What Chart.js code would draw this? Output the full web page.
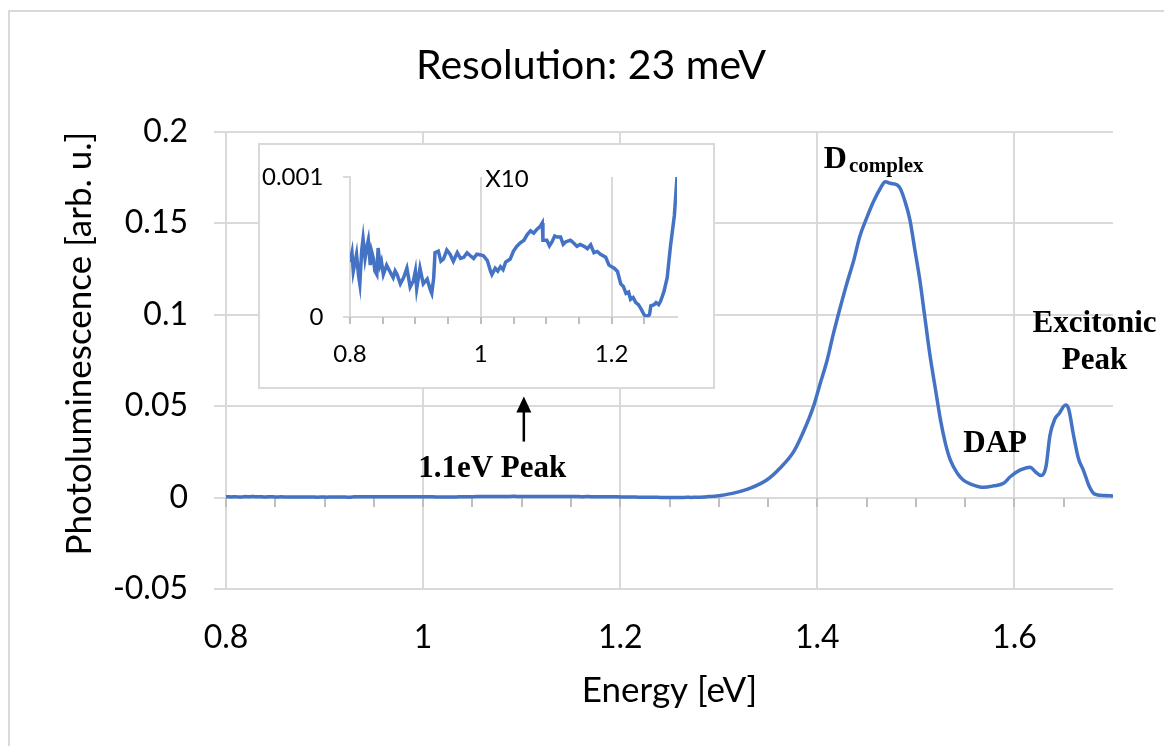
<!DOCTYPE html>
<html>
<head>
<meta charset="utf-8">
<title>Photoluminescence spectrum</title>
<script src="https://cdn.jsdelivr.net/npm/chart.js@4.4.1/dist/chart.umd.min.js"></script>
<style>
  html, body { margin: 0; padding: 0; background: #fff; }
  #wrap { position: relative; width: 1164px; height: 746px; overflow: hidden; }
  #main { position: absolute; left: 0; top: 0; width: 1164px; height: 746px; }
  #inset { position: absolute; left: 258px; top: 143px; width: 457px; height: 246px; }
</style>
</head>
<body>
<div id="wrap">
  <canvas id="main" width="1164" height="746"></canvas>
  <canvas id="inset" width="457" height="246"></canvas>
</div>
<script>
"use strict";

// Energy [eV]
const energy = [
  0.800, 0.803, 0.805, 0.810, 0.813, 0.815, 0.818, 0.820, 0.823, 0.826,
  0.828, 0.831, 0.833, 0.836, 0.838, 0.841, 0.843, 0.846, 0.848, 0.851,
  0.856, 0.861, 0.866, 0.869, 0.872, 0.877, 0.882, 0.887, 0.892, 0.897,
  0.900, 0.902, 0.907, 0.912, 0.918, 0.923, 0.925, 0.928, 0.930, 0.935,
  0.939, 0.943, 0.948, 0.953, 0.958, 0.964, 0.969, 0.974, 0.979, 0.984,
  0.989, 0.994, 1.000, 1.004, 1.010, 1.015, 1.017, 1.022, 1.026, 1.030,
  1.034, 1.038, 1.045, 1.050, 1.055, 1.060, 1.066, 1.071, 1.076, 1.081,
  1.086, 1.091, 1.094, 1.095, 1.101, 1.105, 1.109, 1.113, 1.117, 1.122,
  1.126, 1.130, 1.137, 1.142, 1.147, 1.152, 1.158, 1.163, 1.168, 1.173,
  1.178, 1.183, 1.191, 1.196, 1.204, 1.209, 1.214, 1.218, 1.222, 1.226,
  1.229, 1.233, 1.237, 1.241, 1.245, 1.250, 1.255, 1.258, 1.260, 1.265,
  1.268, 1.272, 1.275, 1.280, 1.285, 1.290, 1.296, 1.300,
  1.315, 1.332, 1.349, 1.362, 1.376, 1.386, 1.396, 1.403, 1.410, 1.416,
  1.423, 1.430, 1.437, 1.443, 1.450, 1.457, 1.464, 1.469, 1.474, 1.481,
  1.484, 1.489, 1.494, 1.499, 1.504, 1.509, 1.514, 1.520, 1.525, 1.530,
  1.535, 1.542, 1.548, 1.555, 1.569, 1.579, 1.589, 1.596, 1.606, 1.616,
  1.621, 1.627, 1.632, 1.636, 1.641, 1.645, 1.652, 1.655, 1.660, 1.665,
  1.670, 1.676, 1.681, 1.691, 1.700,
];

// Photoluminescence [arb. u.]
const photolum = [
  0.000394, 0.000461, 0.000327, 0.000450, 0.000300, 0.000238, 0.000483, 0.000561, 0.000420, 0.000506,
  0.000550, 0.000372, 0.000470, 0.000416, 0.000330, 0.000305, 0.000494, 0.000372, 0.000400, 0.000305,
  0.000372, 0.000327, 0.000283, 0.000330, 0.000305, 0.000238, 0.000283, 0.000350, 0.000216, 0.000261,
  0.000330, 0.000205, 0.000350, 0.000238, 0.000272, 0.000194, 0.000171, 0.000283, 0.000461, 0.000472,
  0.000400, 0.000416, 0.000480, 0.000450, 0.000400, 0.000461, 0.000420, 0.000428, 0.000460, 0.000439,
  0.000420, 0.000450, 0.000445, 0.000439, 0.000405, 0.000327, 0.000305, 0.000350, 0.000330, 0.000361,
  0.000340, 0.000394, 0.000416, 0.000472, 0.000506, 0.000530, 0.000550, 0.000590, 0.000617, 0.000600,
  0.000628, 0.000650, 0.000673, 0.000550, 0.000550, 0.000510, 0.000539, 0.000580, 0.000572, 0.000572,
  0.000520, 0.000539, 0.000550, 0.000530, 0.000506, 0.000520, 0.000506, 0.000490, 0.000517, 0.000461,
  0.000470, 0.000450, 0.000428, 0.000372, 0.000350, 0.000327, 0.000238, 0.000220, 0.000171, 0.000180,
  0.000127, 0.000140, 0.000105, 0.000090, 0.000060, 0.000016, 0.000004, 0.000020, 0.000082, 0.000090,
  0.000105, 0.000090, 0.000116, 0.000183, 0.000283, 0.000506, 0.000728, 0.001000,
  0.0024, 0.0051, 0.0097, 0.0160, 0.0251, 0.0361, 0.0497, 0.0625, 0.0752, 0.0889,
  0.1035, 0.1172, 0.1298, 0.1426, 0.1527, 0.1618, 0.1691, 0.1727, 0.1718, 0.1709,
  0.1691, 0.1618, 0.1517, 0.1353, 0.1189, 0.0989, 0.0789, 0.0587, 0.0423, 0.0295,
  0.0204, 0.0133, 0.0096, 0.0075, 0.0056, 0.0064, 0.0078, 0.0115, 0.0151, 0.0166,
  0.0142, 0.0120, 0.0169, 0.0339, 0.0429, 0.0457, 0.0506, 0.0484, 0.0339, 0.0212,
  0.0149, 0.0060, 0.0020, 0.0011, 0.0009,
];

const mainXTicks = [0.8, 1, 1.2, 1.4, 1.6];
const mainYTicks = [-0.05, 0, 0.05, 0.1, 0.15, 0.2];
const insetXTicks = [0.8, 1, 1.2];
const insetYTicks = [0, 0.001];

const LINE_COLOR = "#4472C4";
const GRID_COLOR = "#d9d9d9";
const TICK_COLOR = "#bfbfbf";
const SANS = "Lato, 'Noto Sans', sans-serif";
const SERIF = "'Liberation Serif', 'DejaVu Serif', serif";

// peak labels, anchored in data units
const peakLabels = [
  { text: "DAP", x: 1.5804, y: 0.0251 },
  { text: "Excitonic", x: 1.6813, y: 0.0907 },
  { text: "Peak", x: 1.6813, y: 0.0703 },
  { text: "1.1eV Peak", x: 1.0701, y: 0.0115 },
];
const complexLabel = { main: "D", sub: "complex", x: 1.4572, y: 0.1802 };
const arrowMark = { x: 1.1022, from: 0.0306, to: 0.0552 };

const points = energy.map((e, i) => ({ x: e, y: photolum[i] }));

function fixTicks(values) {
  return (scale) => {
    scale.ticks = values.map((v) => ({ value: v }));
  };
}

function fmt(v) {
  return String(Math.round(v * 10000) / 10000);
}

// frame around each chart
const framePlugin = {
  id: "frame",
  beforeDraw(chart, args, opts) {
    const { ctx } = chart;
    ctx.save();
    ctx.fillStyle = "#fff";
    ctx.fillRect(0, 0, chart.width, chart.height);
    ctx.strokeStyle = GRID_COLOR;
    ctx.lineWidth = 2;
    ctx.strokeRect(opts.x, opts.y, opts.w, opts.h);
    ctx.restore();
  },
};

// small tick marks hanging under the zero line
const zeroTicksPlugin = {
  id: "zeroTicks",
  beforeDatasetsDraw(chart, args, opts) {
    const { ctx, scales } = chart;
    const x = scales.x;
    const y0 = Math.round(scales.y.getPixelForValue(0));
    ctx.save();
    ctx.strokeStyle = TICK_COLOR;
    ctx.lineWidth = 2;
    for (let v = x.min; v < x.max - 1e-9; v += opts.step) {
      const px = Math.round(x.getPixelForValue(v));
      ctx.beginPath();
      ctx.moveTo(px, y0);
      ctx.lineTo(px, y0 + opts.length);
      ctx.stroke();
    }
    ctx.restore();
  },
};

const peakLabelPlugin = {
  id: "peakLabels",
  afterDatasetsDraw(chart) {
    const { ctx, scales } = chart;
    const sx = scales.x;
    const sy = scales.y;
    ctx.save();
    ctx.fillStyle = "#000";
    ctx.textBaseline = "alphabetic";
    ctx.textAlign = "center";
    ctx.font = `bold 31px ${SERIF}`;
    peakLabels.forEach((l) => {
      ctx.fillText(l.text, sx.getPixelForValue(l.x), sy.getPixelForValue(l.y));
    });

    // D with subscript
    const bigFont = `bold 32px ${SERIF}`;
    const subFont = `bold 21px ${SERIF}`;
    ctx.font = bigFont;
    const wMain = ctx.measureText(complexLabel.main).width;
    ctx.font = subFont;
    const wSub = ctx.measureText(complexLabel.sub).width;
    const cx = sx.getPixelForValue(complexLabel.x);
    const by = sy.getPixelForValue(complexLabel.y);
    const left = cx - (wMain + wSub + 2) / 2;
    ctx.textAlign = "left";
    ctx.font = bigFont;
    ctx.fillText(complexLabel.main, left, by);
    ctx.font = subFont;
    ctx.fillText(complexLabel.sub, left + wMain + 2, by + 4);

    // arrow pointing up at the 1.1 eV feature
    const ax = sx.getPixelForValue(arrowMark.x);
    const yBase = sy.getPixelForValue(arrowMark.from);
    const yTip = sy.getPixelForValue(arrowMark.to);
    ctx.strokeStyle = "#000";
    ctx.lineWidth = 2.5;
    ctx.beginPath();
    ctx.moveTo(ax, yBase);
    ctx.lineTo(ax, yTip + 12);
    ctx.stroke();
    ctx.beginPath();
    ctx.moveTo(ax, yTip);
    ctx.lineTo(ax - 7.5, yTip + 16);
    ctx.lineTo(ax + 7.5, yTip + 16);
    ctx.closePath();
    ctx.fill();
    ctx.restore();
  },
};

const insetTitlePlugin = {
  id: "insetTitle",
  afterDraw(chart, args, opts) {
    const { ctx, scales } = chart;
    ctx.save();
    ctx.fillStyle = "#000";
    ctx.font = `24px ${SANS}`;
    ctx.textAlign = "center";
    ctx.textBaseline = "middle";
    ctx.fillText(opts.text, scales.x.getPixelForValue(opts.x), scales.y.getPixelForValue(opts.y) + 2);
    ctx.restore();
  },
};

const mainChart = new Chart(document.getElementById("main"), {
  type: "line",
  data: {
    datasets: [
      {
        data: points,
        borderColor: LINE_COLOR,
        borderWidth: 3.5,
        pointRadius: 0,
        cubicInterpolationMode: "monotone",
        fill: false,
      },
    ],
  },
  options: {
    responsive: false,
    animation: false,
    events: [],
    layout: { padding: { left: 18, top: 0, right: 0, bottom: 0 } },
    plugins: {
      legend: { display: false },
      tooltip: { enabled: false },
      title: {
        display: true,
        text: "Resolution: 23 meV",
        color: "#000",
        font: { family: SANS, size: 41, weight: "normal", lineHeight: 1.2 },
        padding: { top: 41.4, bottom: 41.1 },
      },
      frame: { x: 9, y: 11, w: 1300, h: 900 },
      zeroTicks: { step: 0.05, length: 9 },
    },
    scales: {
      x: {
        type: "linear",
        min: 0.8,
        max: 1.7,
        afterBuildTicks: fixTicks(mainXTicks),
        afterFit(scale) { scale.height = 746 - 589; },
        grid: { color: GRID_COLOR, lineWidth: 2, drawTicks: false },
        border: { display: false },
        ticks: {
          color: "#000",
          padding: 29.6,
          maxRotation: 0,
          font: { family: SANS, size: 32 },
          callback: (v) => fmt(v),
        },
        title: {
          display: true,
          text: "Energy [eV]",
          color: "#000",
          font: { family: SANS, size: 35, lineHeight: 1.2 },
          padding: { top: 0, bottom: 34 },
        },
      },
      y: {
        type: "linear",
        min: -0.05,
        max: 0.2,
        afterBuildTicks: fixTicks(mainYTicks),
        afterFit(scale) { scale.width = 226 - 18; },
        grid: { color: GRID_COLOR, lineWidth: 2, tickLength: 12 },
        border: { display: false },
        ticks: {
          color: "#000",
          padding: 26,
          font: { family: SANS, size: 32 },
          callback: (v) => fmt(v),
        },
        title: {
          display: true,
          text: "Photoluminescence [arb. u.]",
          align: "end",
          color: "#000",
          font: { family: SANS, size: 35, lineHeight: 1.2 },
          padding: { top: 41, bottom: 0 },
        },
      },
      // empty right-hand gutter
      gutter: {
        type: "linear",
        position: "right",
        display: true,
        afterFit(scale) { scale.width = 1164 - 1113; },
        grid: { display: false, drawTicks: false },
        border: { display: false },
        ticks: { display: false },
      },
    },
  },
  plugins: [framePlugin, zeroTicksPlugin, peakLabelPlugin],
});

const insetChart = new Chart(document.getElementById("inset"), {
  type: "line",
  data: {
    datasets: [
      {
        data: points,
        borderColor: LINE_COLOR,
        borderWidth: 3.5,
        pointRadius: 0,
        tension: 0,
        fill: false,
      },
    ],
  },
  options: {
    responsive: false,
    animation: false,
    events: [],
    layout: { padding: { left: 0, top: 24.7, right: 38, bottom: 0 } },
    plugins: {
      legend: { display: false },
      tooltip: { enabled: false },
      frame: { x: 1, y: 1, w: 455, h: 244 },
      zeroTicks: { step: 0.05, length: 7 },
      insetTitle: { text: "X10", x: 1.04, y: 0.001 },
    },
    scales: {
      x: {
        type: "linear",
        min: 0.8,
        max: 1.3,
        afterBuildTicks: fixTicks(insetXTicks),
        afterFit(scale) { scale.height = 246 - 174.3; },
        grid: { color: GRID_COLOR, lineWidth: 2, drawTicks: false },
        border: { display: true, color: GRID_COLOR, width: 2 },
        ticks: {
          color: "#000",
          padding: 22.3,
          maxRotation: 0,
          font: { family: SANS, size: 24 },
          callback: (v) => fmt(v),
        },
      },
      y: {
        type: "linear",
        min: 0,
        max: 0.001,
        afterBuildTicks: fixTicks(insetYTicks),
        afterFit(scale) { scale.width = 92; },
        grid: { color: GRID_COLOR, lineWidth: 2, drawOnChartArea: false, tickLength: 7 },
        border: { display: true, color: GRID_COLOR, width: 2 },
        ticks: {
          color: "#000",
          padding: 19.7,
          font: { family: SANS, size: 24 },
          callback: (v) => fmt(v),
        },
      },
    },
  },
  plugins: [framePlugin, zeroTicksPlugin, insetTitlePlugin],
});
</script>
</body>
</html>
